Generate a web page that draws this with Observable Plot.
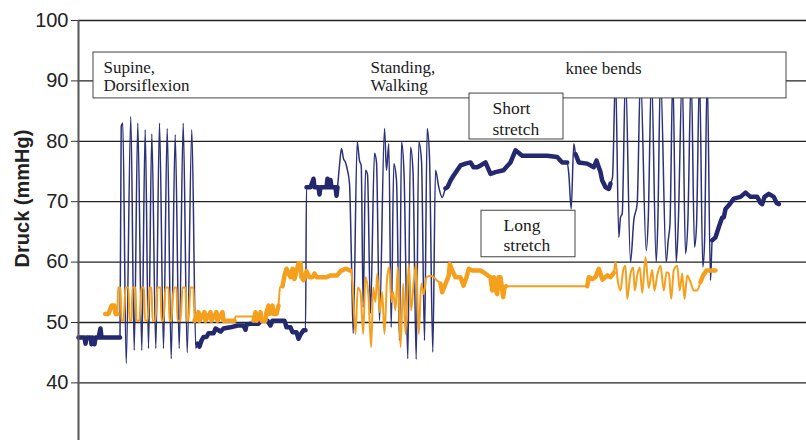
<!DOCTYPE html>
<html><head><meta charset="utf-8">
<script src="https://cdn.jsdelivr.net/npm/d3@7"></script>
<script src="https://cdn.jsdelivr.net/npm/@observablehq/plot@0.6"></script>
<style>body{margin:0;background:#fff}#chart svg{display:block}</style>
</head><body><div id="chart"></div>
<script>
// time axis (arbitrary units) and pressure in mmHg
const navyT = [0,6,7,8,12,13,14,16,17,20,22,23,32,37,41.5,
42.7,44.3,47.7,52.3,55.7,59.3,63.3,66.7,70,73.3,77.3,81,85,88.7,92.7,96.7,100.7,104.7,108.7,113.3,117.3,
119,121,123,125,128,130,135,137,142,145,152,159,165,167,168,172,180,182,189,192,194,202,206,208,212,214,218,220,222,225,227,
228,232,235,236,240,241,242,248,249,250,252,253,257,258,259,
261,263,265,267,269,271,273,274.7,
278.7,281,282.7,284.7,287,289,292,296,298,301,306,308,310.3,312.7,315.3,318,321,323,325.5,329.3,332,334.5,337.7,340.3,343,346,348.7,351,354.3,357,360.3,363.7,
367,369,372,375,378.7,382,387,392,395,398.7,402,407,412,417,425,432,437,443.7,455,468.7,478.7,483.7,488.7,
490.3,492.7,495.3,497,500.3,508.7,515.3,518,520.3,522,523.7,525.3,527,530.3,532,534,
537,540.3,542,543.7,547,552,555.3,558.7,562,567.7,569.7,573,577.7,579.3,582,587.7,589.7,591.5,594.3,597.7,599.7,603.7,607,609.3,612.7,616,618,621,624.3,626,628.7,632,
633.7,637,640.3,643.7,645.3,647,650.3,655.3,662,667,672,678.7,682,683.7,686,690.3,695.3,698,700.3];
const navyP = [47.5,47.5,46.5,47.5,47.5,46.4,47.5,46.4,47.5,47.5,49,47.5,47.5,47.5,47.5,
82.5,83,43.2,84.1,45.4,83,45.4,81.9,45.7,81.2,45.7,83,45.7,82.1,44,81.1,45.7,83,45,81.9,45.7,
46.5,46,47,47.6,47.6,48.2,48.2,49,48.5,49,49.2,49.5,49.5,48.8,49.6,49.8,49.8,50.3,50.3,49.5,50.3,50.3,50.3,49.2,49.2,48.4,48.4,47.3,48,48.7,48.7,
72.4,72.4,73.8,72.4,72.4,71.2,72.4,72.4,73.8,72.4,73.6,72.4,72.4,71,72.4,
76,78.8,77.1,76.5,75.2,73,60,48.2,
79.9,76.8,76,52.5,75.2,74.5,51.5,78,76.5,50.3,82.1,75.2,79.6,49.2,76.3,73.5,47,79.9,74.8,44,79,75,43.9,79.9,76.8,47,82.1,77.3,45.1,75.2,72.4,70.7,
72.2,72.4,73.5,74.3,75.2,76,76.3,76.5,75.7,75.7,76,76.5,74.6,74.9,75.2,76.5,78.5,77.6,77.6,77.6,77.4,76.5,76.5,
74.6,68.8,79.6,77.9,76.5,76.3,75.7,76.8,75.7,74.9,73.5,73,72.4,72.1,73,74,
91,64.1,67.4,68,91,60,66.9,69.7,91,61.9,66.9,91,60,66.4,91,60,63.6,66.4,91,60,66,91,61.4,66.4,91,62.5,66,91,59.2,63,91,57,
63.6,64.1,65.8,67.4,67.4,68.8,69.4,70.5,70.8,71.5,70.8,70.8,69.8,69.6,70.8,71.3,70.8,69.8,69.6];

const orangeT = [26.7,30,33,36,37,39,
39.5,42,43,45,46,47,50,51,53,54,57,58,61,62,63,65.5,66.5,69,70,71,73,74,77,78,79,82,83,85,87,90,91,93,94,96,98,99,102,104,107,108,110,112,115,
116,120,121,126,127,132,133,138,139,144,145,150,156,157,174,175,177,178,182,183,187,187.5,190,191,194,195,198,200,
201.5,204,206,208,210,212,214,216,218,220,222,223,225,228,231,234,236,238,242,248,252,258.7,262,267,272,
274,277,279.3,282,284.7,287,289.7,292.7,294.7,297,298.7,301.3,303.7,306,308.7,311,313,314.7,317,319.3,322,324.7,327,330.3,332.7,335.3,337.7,340.3,342.7,345.3,348,352,355.3,358,
362,363.7,367,370.3,371.3,373.7,377,382,385,388,390.3,394,398,402,406,410,412,413.7,415.3,417,418.7,420,422,424.7,426,427.5,
508.7,510.3,514,517,520.3,524,528.7,532,535.3,
537,539.3,542,544.7,547,548.7,552,554.7,556.3,558.7,561.3,563.7,567,570.3,573.7,576,578.7,582,585.3,588,590.3,592.7,595.3,598.7,601.3,603.7,606,608.7,612,615.3,618.7,
622,624.7,628,632,637];
const orangeP = [51.4,51.4,52.8,52.8,51.4,51.4,
55.8,55.8,50.3,50.3,52.8,55.8,55.8,50.3,50.3,55.8,55.8,50.3,50.3,53.5,55.8,55.8,50.3,50.3,52.8,55.8,55.8,50.3,50.3,53.5,55.8,55.8,50.3,50.3,55.8,55.8,50.3,50.3,53.5,55.8,55.8,50.3,50.3,55.8,55.8,50.3,50.3,55.8,55.8,
50.3,51.7,50.3,51.7,50.3,51.7,50.3,51.7,50.3,51.7,50.3,50.3,50.3,51,51,50.3,51.7,50.3,51.7,50.3,50.3,51.4,52.8,51.4,52.8,51.4,51.4,52.8,
55.8,56,57.8,58.9,58.1,57.5,58.9,57.2,58.5,59.8,59.8,57.5,57,58.5,57.5,57.5,58.1,57.5,57.5,57.5,57.8,57.8,58.5,58.9,58.6,
56.4,48.1,55.8,55,48.1,57.5,55,45.9,55.8,53.4,58.1,51.7,55,48.1,57.5,59.2,53.4,55,52,59.2,45.9,56.4,48.1,59.7,52,56.8,59.7,48.1,56.4,54.7,57.5,57.7,57.5,57,
56.4,55,56.4,57.8,59.7,58.6,57.5,57.5,56.1,57.5,58.9,58.6,58.6,58.6,58.2,57.7,57.5,55.3,57.5,55.5,54.7,57.5,57.5,54.2,55.8,56,
56,57.5,57.2,57.5,58.9,57.1,57.8,57.5,58.2,
60,56.9,55.3,58.7,59.4,53.9,58.1,59.1,55.3,57.8,59.1,54.9,60.8,55.7,58.7,55.3,57.8,59.4,55.3,58.3,58.1,53.9,58.7,59.4,55.3,58.1,53.9,57.8,56.7,55.3,55.3,
56.7,57.8,58.6,58.6,58.6];

// quiet (noisy, dense) phases drawn as a thick band
const navyRest = [[0,41.5],[119,227],[228,259],[364,490],[497,532],[633.7,701]];
const orangeRest = [[26,39],[116,156],[175,200],[202,273],[362,428],[508,536],[622,638]];

const yTicks = [40,50,60,70,80,90,100];

// annotation boxes and labels
const boxX1 = [15,391,403], boxX2 = [708,485,497], boxY1 = [87.1,80.3,60.8], boxY2 = [94.7,87.9,68.5];
const noteText = ["Supine,\nDorsiflexion","Standing,\nWalking","knee bends"];
const noteT = [25,292,487], noteP = [90.73,90.73,92.05];
const noteText2 = ["Short\nstretch"], noteT2 = [414], noteP2 = [83.94];
const noteText3 = ["Long\nstretch"], noteT3 = [425], noteP3 = [64.57];

const NAVY = "#24286e", NAVY_THIN = "#2c3178", ORANGE = "#f5a01d";

const navy = navyT.map((t,i)=>({t, p:navyP[i]}));
const orange = orangeT.map((t,i)=>({t, p:orangeP[i]}));
function rest(data, intervals){
  const out=[];
  intervals.forEach(([a,b],k)=>data.forEach(d=>{ if(d.t>=a && d.t<=b) out.push({...d, seg:k}); }));
  return out;
}
const boxes = boxX1.map((x,i)=>({x1:x,x2:boxX2[i],y1:boxY1[i],y2:boxY2[i]}));
const serif = "Liberation Serif, Times New Roman, serif";

const chart = Plot.plot({
  width:806, height:440,
  marginLeft:78, marginRight:0, marginTop:20, marginBottom:0,
  x:{domain:[0,728], axis:null},
  y:{domain:[30.46,100], axis:null},
  style:{fontFamily:"Liberation Sans, Arial, sans-serif", background:"white", color:"#222"},
  marks:[
    Plot.ruleY(yTicks, {stroke:"#222", strokeWidth:1.3}),
    Plot.line(navy, {x:"t", y:"p", stroke:NAVY_THIN, strokeWidth:1.5, curve:"monotone-x", strokeLinejoin:"round"}),
    Plot.line(rest(navy, navyRest), {x:"t", y:"p", z:"seg", stroke:NAVY, strokeWidth:4.5, strokeLinejoin:"round"}),
    Plot.line(orange, {x:"t", y:"p", stroke:ORANGE, strokeWidth:2, curve:"monotone-x", strokeLinejoin:"round"}),
    Plot.line(rest(orange, orangeRest), {x:"t", y:"p", z:"seg", stroke:ORANGE, strokeWidth:4.5, strokeLinejoin:"round"}),
    Plot.rect(boxes, {x1:"x1", x2:"x2", y1:"y1", y2:"y2", fill:"white", stroke:"#444", strokeWidth:1}),
    Plot.text(noteText, {x:noteT, y:noteP, text:d=>d, textAnchor:"start", lineAnchor:"middle", lineHeight:1.05, fontSize:17, fontFamily:serif, fill:"#1a1a1a"}),
    Plot.text(noteText2, {x:noteT2, y:noteP2, text:d=>d, textAnchor:"start", lineAnchor:"middle", lineHeight:1.25, fontSize:17.5, fontFamily:serif, fill:"#1a1a1a"}),
    Plot.text(noteText3, {x:noteT3, y:noteP3, text:d=>d, textAnchor:"start", lineAnchor:"middle", lineHeight:1.14, fontSize:17.5, fontFamily:serif, fill:"#1a1a1a"}),
    Plot.ruleX([0], {stroke:"#555", strokeWidth:2}),
    Plot.axisY(yTicks, {tickSize:7, tickPadding:3, fontSize:20, label:null, stroke:"#333"}),
    Plot.text(["Druck (mmHg)"], {y:[70.53], frameAnchor:"left", dx:-56, rotate:-90, text:d=>d, fontSize:20, fontWeight:"bold", textAnchor:"middle", fill:"#222"})
  ]
});
document.getElementById("chart").appendChild(chart);
</script>
</body></html>
